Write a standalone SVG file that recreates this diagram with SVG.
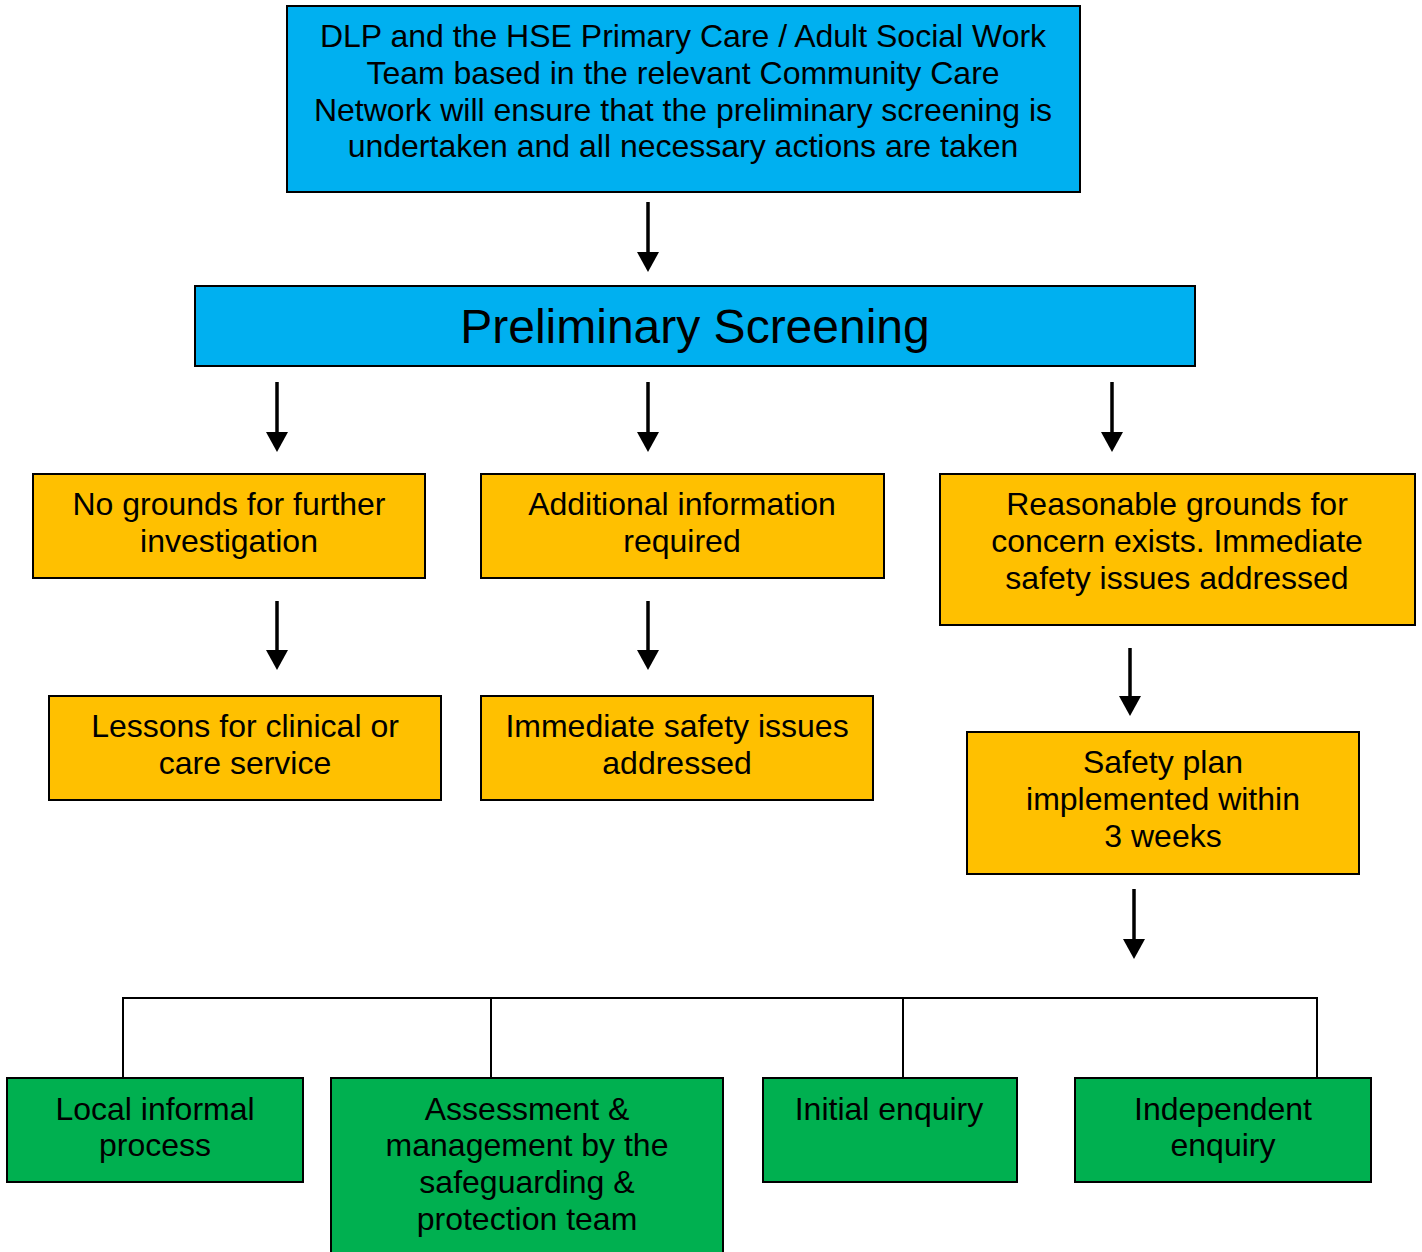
<svg xmlns="http://www.w3.org/2000/svg" width="1422" height="1252" viewBox="0 0 1422 1252">
<defs>
<marker id="ah" markerUnits="userSpaceOnUse" markerWidth="22" markerHeight="24" refX="10" refY="11" orient="auto" viewBox="0 0 22 22"><path d="M0,0 L20,11 L0,22 Z" fill="#000"/></marker>
<style>
.blue{fill:#00B0F0;stroke:#000;stroke-width:2}
.org{fill:#FFC000;stroke:#000;stroke-width:2}
.grn{fill:#00B050;stroke:#000;stroke-width:2}
text{font-family:"Liberation Sans",Arial,sans-serif;font-size:32px;fill:#000;text-anchor:middle}
.big{font-size:48px}
.arr{stroke:#000;stroke-width:3.5;fill:none}
.ln{stroke:#000;stroke-width:2;fill:none}
</style>
</defs>
<rect width="1422" height="1252" fill="#fff"/>
<g id="connectors">
<line class="arr" x1="648" y1="202" x2="648" y2="262" marker-end="url(#ah)"/>
<line class="arr" x1="277" y1="382" x2="277" y2="442" marker-end="url(#ah)"/>
<line class="arr" x1="648" y1="382" x2="648" y2="442" marker-end="url(#ah)"/>
<line class="arr" x1="1112" y1="382" x2="1112" y2="442" marker-end="url(#ah)"/>
<line class="arr" x1="277" y1="601" x2="277" y2="660" marker-end="url(#ah)"/>
<line class="arr" x1="648" y1="601" x2="648" y2="660" marker-end="url(#ah)"/>
<line class="arr" x1="1130" y1="648" x2="1130" y2="706" marker-end="url(#ah)"/>
<line class="arr" x1="1134" y1="889" x2="1134" y2="949" marker-end="url(#ah)"/>
<path class="ln" d="M123,1078 V998 H1317 V1078 M491,998 V1078 M903,998 V1078"/>
</g>
<g id="n-top"><rect class="blue" x="287" y="6" width="793" height="186"/>
<text x="683" y="47">DLP and the HSE Primary Care / Adult Social Work</text>
<text x="683" y="84">Team based in the relevant Community Care</text>
<text x="683" y="121">Network will ensure that the preliminary screening is</text>
<text x="683" y="157">undertaken and all necessary actions are taken</text></g>
<g id="n-prelim"><rect class="blue" x="195" y="286" width="1000" height="80"/>
<text class="big" x="695" y="343">Preliminary Screening</text></g>
<g id="n-nogrounds"><rect class="org" x="33" y="474" width="392" height="104"/>
<text x="229" y="515">No grounds for further</text>
<text x="229" y="552">investigation</text></g>
<g id="n-additional"><rect class="org" x="481" y="474" width="403" height="104"/>
<text x="682" y="515">Additional information</text>
<text x="682" y="552">required</text></g>
<g id="n-reasonable"><rect class="org" x="940" y="474" width="475" height="151"/>
<text x="1177" y="515">Reasonable grounds for</text>
<text x="1177" y="552">concern exists. Immediate</text>
<text x="1177" y="589">safety issues addressed</text></g>
<g id="n-lessons"><rect class="org" x="49" y="696" width="392" height="104"/>
<text x="245" y="737">Lessons for clinical or</text>
<text x="245" y="774">care service</text></g>
<g id="n-immediate"><rect class="org" x="481" y="696" width="392" height="104"/>
<text x="677" y="737">Immediate safety issues</text>
<text x="677" y="774">addressed</text></g>
<g id="n-safety"><rect class="org" x="967" y="732" width="392" height="142"/>
<text x="1163" y="773">Safety plan</text>
<text x="1163" y="810">implemented within</text>
<text x="1163" y="847">3 weeks</text></g>
<g id="n-local"><rect class="grn" x="7" y="1078" width="296" height="104"/>
<text x="155" y="1120">Local informal</text>
<text x="155" y="1156">process</text></g>
<g id="n-assessment"><rect class="grn" x="331" y="1078" width="392" height="180"/>
<text x="527" y="1120">Assessment &amp;</text>
<text x="527" y="1156">management by the</text>
<text x="527" y="1193">safeguarding &amp;</text>
<text x="527" y="1230">protection team</text></g>
<g id="n-initial"><rect class="grn" x="763" y="1078" width="254" height="104"/>
<text x="889" y="1120">Initial enquiry</text></g>
<g id="n-independent"><rect class="grn" x="1075" y="1078" width="296" height="104"/>
<text x="1223" y="1120">Independent</text>
<text x="1223" y="1156">enquiry</text></g>
</svg>
